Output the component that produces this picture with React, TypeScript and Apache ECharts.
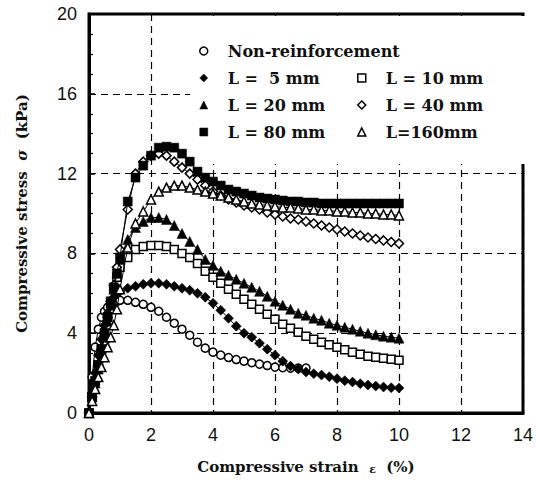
import React, { useEffect, useRef } from "react";
import * as echarts from "echarts";

// Compressive strain (%) sample points
const strain = [
  0, 0.1, 0.2, 0.3, 0.4, 0.5, 0.6, 0.7, 0.8, 0.9, 1.0,
  1.25, 1.5, 1.75, 2.0, 2.25, 2.5, 2.75, 3.0, 3.25, 3.5, 3.75, 4.0,
  4.25, 4.5, 4.75, 5.0, 5.25, 5.5, 5.75, 6.0, 6.25, 6.5, 6.75, 7.0,
  7.25, 7.5, 7.75, 8.0, 8.25, 8.5, 8.75, 9.0, 9.25, 9.5, 9.75, 10.0,
];

// Compressive stress (kPa)
const nonReinforcement = [
  0, 1.8, 3.3, 4.2, 4.8, 5.1, 5.3, 5.45, 5.55, 5.6, 5.65,
  5.65, 5.55, 5.45, 5.3, 5.1, 4.8, 4.5, 4.2, 3.9, 3.55, 3.25, 3.05,
  2.9, 2.78, 2.68, 2.6, 2.52, 2.45, 2.38, 2.3, 2.27, 2.25, 2.25, 2.25,
];
const len5 = [
  0, 1.0, 2.0, 2.9, 3.7, 4.4, 5.0, 5.5, 5.8, 6.0, 6.1,
  6.25, 6.35, 6.45, 6.5, 6.5, 6.45, 6.35, 6.25, 6.15, 6.0, 5.8, 5.5,
  5.15, 4.75, 4.35, 4.0, 3.8, 3.5, 3.2, 2.9, 2.6, 2.35, 2.2, 2.05,
  1.97, 1.9, 1.82, 1.72, 1.62, 1.55, 1.47, 1.4, 1.35, 1.3, 1.27, 1.25,
];
const len10 = [
  0, 0.8, 1.6, 2.4, 3.2, 4.0, 4.8, 5.5, 6.2, 6.8, 7.3,
  7.8, 8.2, 8.35, 8.4, 8.4, 8.35, 8.2, 8.0, 7.8, 7.5, 7.1, 6.8,
  6.5, 6.2, 5.95, 5.7, 5.45, 5.2, 4.95, 4.7, 4.45, 4.25, 4.05, 3.85,
  3.7, 3.55, 3.42, 3.3, 3.17, 3.05, 2.95, 2.85, 2.8, 2.75, 2.7, 2.65,
];
const len20 = [
  0, 0.8, 1.5, 2.2, 3.0, 3.8, 4.6, 5.4, 6.2, 7.0, 7.7,
  8.7, 9.3, 9.6, 9.8, 9.8, 9.7, 9.4, 9.0, 8.6, 8.2, 7.7, 7.4,
  7.1, 6.9, 6.7, 6.5, 6.3, 6.1, 5.85, 5.6, 5.4, 5.2, 5.0, 4.9,
  4.75, 4.65, 4.5, 4.4, 4.3, 4.2, 4.1, 4.0, 3.92, 3.85, 3.8, 3.75,
];
const len40 = [
  0, 0.8, 1.6, 2.4, 3.2, 4.0, 4.8, 5.6, 6.4, 7.3, 8.2,
  10.2, 12.0, 12.6, 12.9, 13.0, 12.9, 12.6, 12.3, 12.0, 11.7, 11.4, 11.1,
  10.9, 10.7, 10.55, 10.4, 10.3, 10.2, 10.05, 9.95, 9.85, 9.75, 9.7, 9.6,
  9.5, 9.4, 9.3, 9.2, 9.1, 9.0, 8.9, 8.8, 8.72, 8.65, 8.57, 8.5,
];
const len80 = [
  0, 0.8, 1.6, 2.4, 3.2, 4.0, 4.8, 5.6, 6.3, 7.0, 7.8,
  10.6, 11.8, 12.4, 12.9, 13.3, 13.35, 13.3, 13.0, 12.6, 12.1, 11.8, 11.6,
  11.4, 11.2, 11.1, 11.0, 10.9, 10.8, 10.75, 10.7, 10.65, 10.6, 10.6, 10.55,
  10.55, 10.5, 10.5, 10.5, 10.5, 10.5, 10.5, 10.5, 10.5, 10.5, 10.5, 10.5,
];
const len160 = [
  0, 0.6, 1.2, 1.8, 2.3, 2.8, 3.3, 3.8, 4.4, 5.2, 6.2,
  8.3, 9.5, 10.1, 10.7, 11.1, 11.3, 11.4, 11.4, 11.3, 11.2, 11.1, 11.0,
  10.9, 10.8, 10.7, 10.6, 10.5, 10.45, 10.4, 10.35, 10.3, 10.3, 10.25, 10.2,
  10.2, 10.15, 10.15, 10.1, 10.1, 10.05, 10.05, 10.0, 10.0, 9.95, 9.95, 9.9,
];

const xTicks = [0, 2, 4, 6, 8, 10, 12, 14];
const yTicks = [0, 4, 8, 12, 16, 20];

const seriesNames = [
  "Non-reinforcement",
  "L =  5 mm",
  "L = 10 mm",
  "L = 20 mm",
  "L = 40 mm",
  "L = 80 mm",
  "L=160mm",
];
const seriesValues = [nonReinforcement, len5, len10, len20, len40, len80, len160];
const seriesSymbols = ["circle", "diamond", "rect", "triangle", "diamond", "rect", "triangle"];
const seriesFilled = [false, true, false, true, false, true, false];
const seriesSizes = [8, 10, 8, 10, 9, 9, 9];

const legendLeft = ["Non-reinforcement", "L =  5 mm", "L = 20 mm", "L = 80 mm"];
const legendRight = ["L = 10 mm", "L = 40 mm", "L=160mm"];

const SERIF = "'DejaVu Serif', 'Liberation Serif', serif";
const SANS = "'Liberation Sans', Arial, sans-serif";

export default function App() {
  const ref = useRef<HTMLDivElement>(null);

  useEffect(() => {
    if (!ref.current) return;
    const chart = echarts.init(ref.current, null, { renderer: "svg" });

    const styleFor = (i: number) =>
      seriesFilled[i]
        ? { color: "#000", borderColor: "#000", borderWidth: 0.5 }
        : { color: "#fff", borderColor: "#000", borderWidth: 1.5 };

    const series = seriesNames.map((name, i) => ({
      name,
      type: "line",
      data: seriesValues[i].map((v, k) => [strain[k], v]),
      symbol: seriesSymbols[i],
      symbolSize: seriesSizes[i],
      showAllSymbol: true,
      lineStyle: { color: "#000", width: 1 },
      itemStyle: styleFor(i),
      z: 3 + i,
    }));

    const legendItem = (name: string) => {
      const i = seriesNames.indexOf(name);
      return { name, icon: seriesSymbols[i], itemStyle: styleFor(i) };
    };

    const legendCommon = {
      orient: "vertical",
      itemWidth: 8,
      itemHeight: 8,
      itemGap: 11,
      selectedMode: false,
      z: 4,
      textStyle: {
        fontFamily: SERIF,
        fontSize: 16,
        fontWeight: "bold",
        color: "#111",
        padding: [0, 0, 0, 15],
      },
    };

    chart.setOption({
      animation: false,
      backgroundColor: "#fff",
      grid: {
        left: 89,
        right: 9,
        top: 14,
        bottom: 68,
        show: true,
        borderColor: "#000",
        borderWidth: 3,
      },
      graphic: [
        {
          type: "rect",
          z: 1,
          shape: { x: 190, y: 16, width: 335, height: 148 },
          style: { fill: "#fff" },
        },
      ],
      legend: [
        { ...legendCommon, left: 194, top: 38, data: legendLeft.map(legendItem) },
        { ...legendCommon, left: 352, top: 65, data: legendRight.map(legendItem) },
      ],
      xAxis: {
        type: "value",
        min: xTicks[0],
        max: xTicks[xTicks.length - 1],
        interval: 2,
        name: "Compressive strain  {e|ε}  (%)",
        nameLocation: "middle",
        nameGap: 45,
        nameTextStyle: {
          fontFamily: SERIF,
          fontSize: 15,
          fontWeight: "bold",
          color: "#111",
          rich: { e: { fontFamily: SERIF, fontSize: 11, padding: [6, 0, 0, 0], color: "#111" } },
        },
        axisLine: { lineStyle: { color: "#000", width: 3 } },
        axisTick: { show: false },
        axisLabel: { fontFamily: SANS, fontSize: 18, color: "#111", margin: 13 },
        splitLine: { show: true, lineStyle: { color: "#000", width: 1.2, type: [7, 5] } },
      },
      yAxis: {
        type: "value",
        min: yTicks[0],
        max: yTicks[yTicks.length - 1],
        interval: 4,
        name: "Compressive stress  {s|σ}  (kPa)",
        nameLocation: "middle",
        nameGap: 60,
        nameTextStyle: {
          fontFamily: SERIF,
          fontSize: 15,
          fontWeight: "bold",
          color: "#111",
          rich: { s: { fontFamily: SERIF, fontStyle: "italic", fontSize: 15, color: "#111" } },
        },
        axisLine: { lineStyle: { color: "#000", width: 3 } },
        axisTick: { show: true, inside: true, length: 6, lineStyle: { color: "#000", width: 1.5 } },
        minorTick: { show: true, splitNumber: 4, length: 4, lineStyle: { color: "#000", width: 1.2 } },
        axisLabel: { fontFamily: SANS, fontSize: 18, color: "#111", margin: 12 },
        splitLine: { show: true, lineStyle: { color: "#000", width: 1.2, type: [7, 5] } },
      },
      series,
    });

    return () => chart.dispose();
  }, []);

  return (
    <div
      ref={ref}
      style={{ position: "absolute", left: 0, top: 0, width: 536, height: 481, background: "#fff" }}
    />
  );
}
